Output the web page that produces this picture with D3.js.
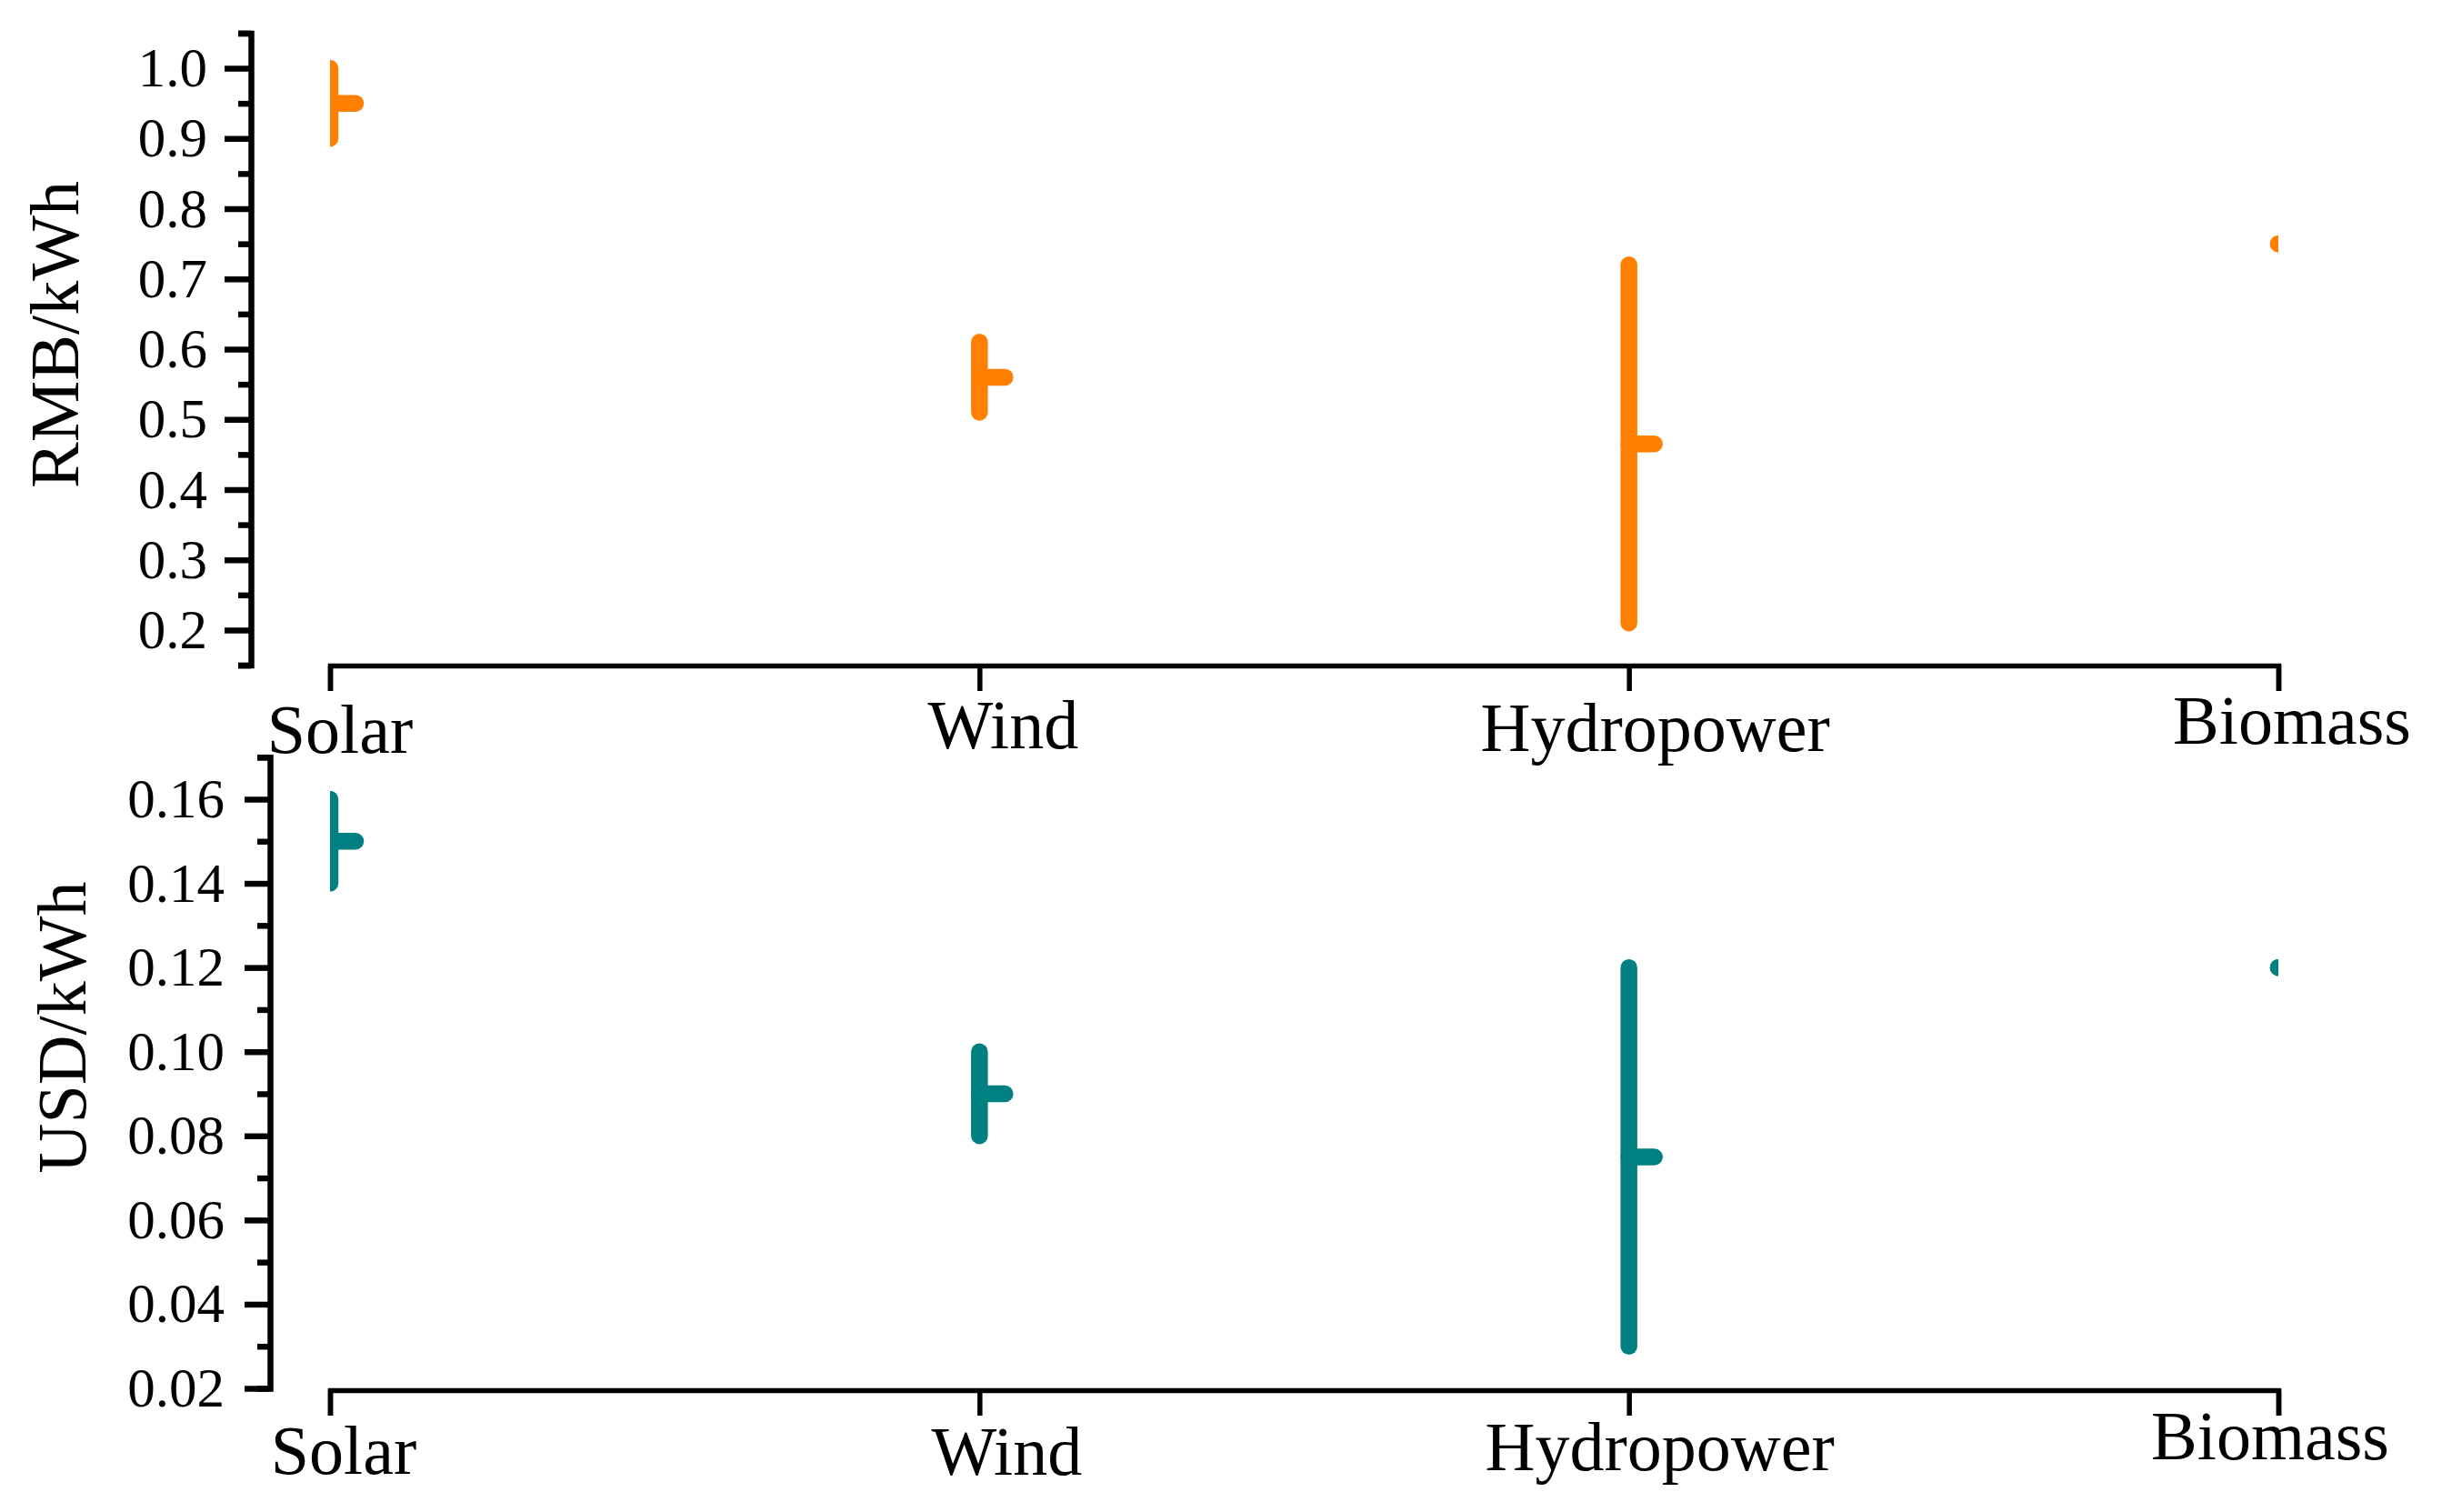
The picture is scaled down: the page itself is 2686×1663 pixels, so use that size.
<!DOCTYPE html>
<html>
<head>
<meta charset="utf-8">
<script src="https://cdn.jsdelivr.net/npm/d3@7"></script>
<style>
    html, body { margin: 0; padding: 0; background: #ffffff; }
    svg { display: block; }
</style>
</head>
<body>
<div id="chart"></div>
<script>
var categories = ["Solar", "Wind", "Hydropower", "Biomass"];

var rmbMin  = [0.90, 0.51, 0.21, 0.75];
var rmbMax  = [1.00, 0.61, 0.72, 0.75];
var rmbMean = [0.95, 0.56, 0.465, 0.75];

var usdMin  = [0.14, 0.08, 0.03, 0.12];
var usdMax  = [0.16, 0.10, 0.12, 0.12];
var usdMean = [0.15, 0.09, 0.075, 0.12];

var rmbTicks = [0.2, 0.3, 0.4, 0.5, 0.6, 0.7, 0.8, 0.9, 1.0];
var rmbMinorTicks = [0.15, 0.25, 0.35, 0.45, 0.55, 0.65, 0.75, 0.85, 0.95, 1.05];
var usdTicks = [0.02, 0.04, 0.06, 0.08, 0.10, 0.12, 0.14, 0.16];
var usdMinorTicks = [0.03, 0.05, 0.07, 0.09, 0.11, 0.13, 0.15, 0.17];

var rangeChart = function rangeChart(properties) {
    "use strict";

    var svg = {};
    var x = {};
    var font = "'Liberation Serif', 'Times New Roman', Times, serif";

    var init = function init(properties) {
        svg = d3.select(properties.div)
            .append("svg")
            .attr("width", properties.width)
            .attr("height", properties.height);

        svg.append("rect")
            .attr("width", properties.width)
            .attr("height", properties.height)
            .attr("fill", "#ffffff");

        x = d3.scalePoint()
            .domain(categories)
            .range([363, 2506])
            .padding(0);

        // marks at Solar and Biomass are cut in half at the plot edge
        svg.append("clipPath")
            .attr("id", "plot-clip")
            .append("rect")
            .attr("x", 363)
            .attr("y", 0)
            .attr("width", 2506 - 363)
            .attr("height", properties.height);
    };

    var drawPanel = function drawPanel(p) {
        var y = d3.scaleLinear()
            .domain(p.domain)
            .range([p.bottom, p.top]);

        var g = svg.append("g");

        // y axis, major ticks with labels
        var yAxis = g.append("g")
            .attr("transform", "translate(" + p.axisX + ",0)")
            .call(d3.axisLeft(y)
                .tickValues(p.ticks)
                .tickSize(p.majorSize)
                .tickSizeOuter(14)
                .tickPadding(p.tickPad)
                .tickFormat(d3.format(p.format)));

        yAxis.attr("font-family", null).attr("font-size", null);
        yAxis.select(".domain").attr("stroke-width", 6.5);
        yAxis.selectAll(".tick line").attr("stroke-width", 6.5);
        yAxis.selectAll(".tick text")
            .style("font-family", font)
            .style("font-size", "61px")
            .attr("fill", "#000");

        // minor ticks
        var yMinor = g.append("g")
            .attr("transform", "translate(" + p.axisX + ",0)")
            .call(d3.axisLeft(y)
                .tickValues(p.minor)
                .tickSize(14)
                .tickFormat(""));
        yMinor.select(".domain").remove();
        yMinor.selectAll(".tick line").attr("stroke-width", 6.5);

        // x axis
        var xAxis = g.append("g")
            .attr("transform", "translate(0," + p.baseY + ")")
            .call(d3.axisBottom(x)
                .tickSize(28)
                .tickSizeOuter(28)
                .tickFormat(""));
        xAxis.select(".domain").attr("stroke-width", 5.5);
        xAxis.selectAll(".tick line").attr("stroke-width", 5.5);

        g.selectAll(".cat-label")
            .data(categories)
            .enter()
            .append("text")
            .attr("class", "cat-label")
            .attr("x", function(d, i) { return x(d) + p.labelDx[i]; })
            .attr("y", function(d, i) { return p.baseY + p.labelDy[i]; })
            .attr("text-anchor", "middle")
            .style("font-family", font)
            .style("font-size", "76px")
            .attr("fill", "#000")
            .text(function(d) { return d; });

        // axis title
        g.append("text")
            .attr("transform", "translate(" + p.titleX + "," + p.titleY + ") rotate(-90)")
            .attr("text-anchor", "middle")
            .style("font-family", font)
            .style("font-size", "76px")
            .attr("fill", "#000")
            .text(p.title);

        // ranges and means
        var marks = g.append("g").attr("clip-path", "url(#plot-clip)");

        marks.selectAll(".range")
            .data(categories)
            .enter()
            .append("line")
            .attr("class", "range")
            .attr("x1", function(d) { return x(d); })
            .attr("x2", function(d) { return x(d); })
            .attr("y1", function(d, i) { return y(p.min[i]); })
            .attr("y2", function(d, i) { return y(p.max[i]); })
            .attr("stroke", p.color)
            .attr("stroke-width", 18.5)
            .attr("stroke-linecap", "round");

        marks.selectAll(".mean")
            .data(categories)
            .enter()
            .append("line")
            .attr("class", "mean")
            .attr("x1", function(d) { return x(d); })
            .attr("x2", function(d) { return x(d) + 28; })
            .attr("y1", function(d, i) { return y(p.mean[i]); })
            .attr("y2", function(d, i) { return y(p.mean[i]); })
            .attr("stroke", p.color)
            .attr("stroke-width", 18.5)
            .attr("stroke-linecap", "round");
    };

    init(properties);

    drawPanel({
        title: "RMB/kWh",
        color: "#ff8000",
        min: rmbMin, max: rmbMax, mean: rmbMean,
        domain: [0.15, 1.05], top: 36.4, bottom: 731.6,
        ticks: rmbTicks, minor: rmbMinorTicks, format: ".1f",
        axisX: 276, majorSize: 29, tickPad: 19,
        baseY: 732,
        titleX: 86, titleY: 368,
        labelDx: [11, 26, 29, 15],
        labelDy: [96, 91, 94, 86]
    });

    drawPanel({
        title: "USD/kWh",
        color: "#008080",
        min: usdMin, max: usdMax, mean: usdMean,
        domain: [0.02, 0.17], top: 832.7, bottom: 1527,
        ticks: usdTicks, minor: usdMinorTicks, format: ".2f",
        axisX: 297, majorSize: 28, tickPad: 22,
        baseY: 1529,
        titleX: 94, titleY: 1130,
        labelDx: [15, 30, 34, -9],
        labelDy: [92, 93, 88, 76]
    });

    return { svg: svg };
};

rangeChart({ div: "#chart", width: 2686, height: 1663 });
</script>
</body>
</html>
